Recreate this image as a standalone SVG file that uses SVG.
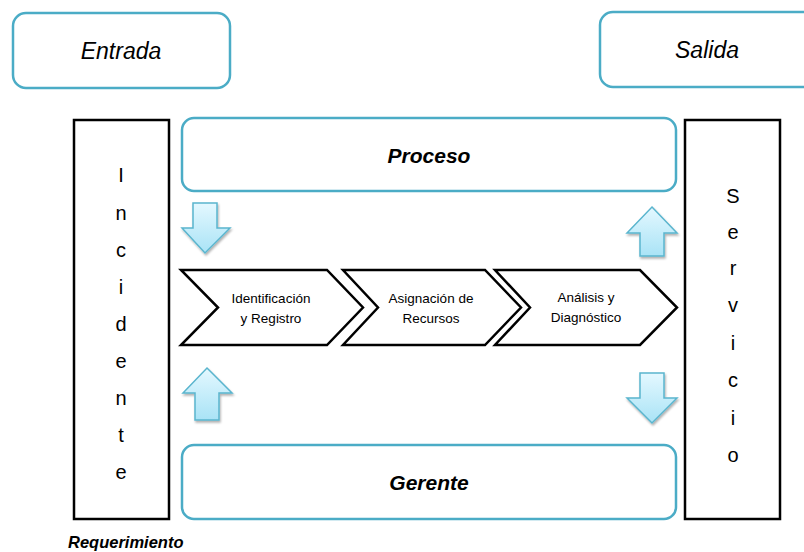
<svg xmlns="http://www.w3.org/2000/svg" width="804" height="552" viewBox="0 0 804 552">
<style>
.rbox{fill:#fff;stroke:#4bacc6;stroke-width:2.5}
.bar{fill:#fff;stroke:#000;stroke-width:2.5}
.chev{fill:#fff;stroke:#000;stroke-width:2.5;stroke-linejoin:miter}
.arr{fill:url(#ag);stroke:#5ab5ce;stroke-width:1.5;filter:url(#sh)}
text{font-family:"Liberation Sans",Arial,sans-serif;fill:#000}
.it{font-style:italic;font-size:23px}
.bi{font-style:italic;font-weight:bold;font-size:21px}
.let{font-size:20px;text-anchor:middle}
.ch{font-size:13.5px;text-anchor:middle}
</style>
<defs>
<linearGradient id="ag" x1="0" y1="0" x2="0" y2="1">
<stop offset="0" stop-color="#e4f8ff"/>
<stop offset="1" stop-color="#a9e3f6"/>
</linearGradient>
<filter id="sh" x="-20%" y="-20%" width="150%" height="150%">
<feDropShadow dx="1" dy="2" stdDeviation="1.2" flood-color="#000" flood-opacity="0.3"/>
</filter>
</defs>
<g id="entrada"><rect class="rbox" x="13" y="13" width="217" height="75" rx="13"/><text class="it" x="121" y="59" text-anchor="middle">Entrada</text></g>
<g id="salida"><rect class="rbox" x="600" y="12" width="230" height="75" rx="13"/><text class="it" x="707" y="58" text-anchor="middle">Salida</text></g>
<g id="proceso"><rect class="rbox" x="182" y="118" width="494" height="73" rx="12"/><text class="bi" x="429" y="163" text-anchor="middle">Proceso</text></g>
<g id="gerente"><rect class="rbox" x="182" y="445" width="494" height="74" rx="12"/><text class="bi" x="429" y="490" text-anchor="middle">Gerente</text></g>
<g id="incidente"><rect class="bar" x="74" y="120" width="95" height="399"/>
<text class="let" x="121" y="182">I</text><text class="let" x="121" y="220">n</text><text class="let" x="121" y="257">c</text><text class="let" x="121" y="294">i</text><text class="let" x="121" y="331">d</text><text class="let" x="121" y="368">e</text><text class="let" x="121" y="405">n</text><text class="let" x="121" y="442">t</text><text class="let" x="121" y="479">e</text>
</g>
<g id="servicio"><rect class="bar" x="685" y="120" width="95" height="399"/>
<text class="let" x="733" y="203">S</text><text class="let" x="733" y="239">e</text><text class="let" x="733" y="275">r</text><text class="let" x="733" y="312">v</text><text class="let" x="733" y="350">i</text><text class="let" x="733" y="387">c</text><text class="let" x="733" y="425">i</text><text class="let" x="733" y="462">o</text>
</g>
<g id="identificacion"><polygon class="chev" points="181,270 327,270 363,307.5 327,345 181,345 218,307.5"/><text class="ch" x="271" y="303">Identificación</text><text class="ch" x="271" y="323">y Registro</text></g>
<g id="asignacion"><polygon class="chev" points="343,270 485,270 521,307.5 485,345 343,345 378,307.5"/><text class="ch" x="431" y="303">Asignación de</text><text class="ch" x="431" y="323">Recursos</text></g>
<g id="analisis"><polygon class="chev" points="495,270 640,270 677,307.5 640,345 495,345 530,307.5"/><text class="ch" x="586" y="302">Análisis y</text><text class="ch" x="586" y="322">Diagnóstico</text></g>
<g id="connectors">
<polygon class="arr" points="193,203 217,203 217,228 230,228 205,253 182,228 193,228"/>
<polygon class="arr" points="207,368 232,393 219,393 219,420 195,420 195,393 183,393"/>
<polygon class="arr" points="652,207 677,233 664,233 664,256 640,256 640,233 627,233"/>
<polygon class="arr" points="640,373 664,373 664,398 677,398 652,423 627,398 640,398"/>
</g>
<text x="68" y="548" style="font-style:italic;font-weight:bold;font-size:16.5px">Requerimiento</text>
</svg>
